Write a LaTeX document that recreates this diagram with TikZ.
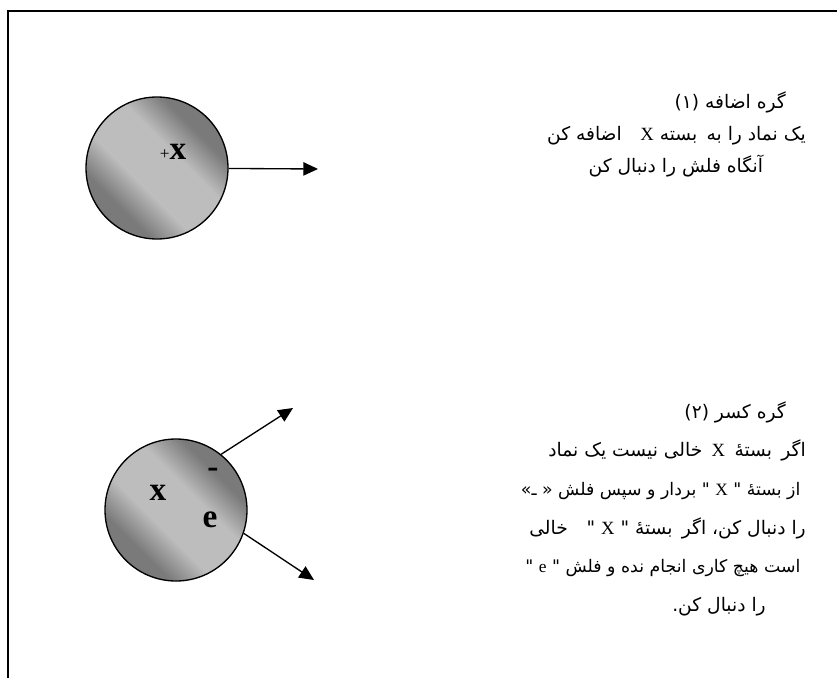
\documentclass[tikz,border=0pt]{standalone}
\usepackage{fontspec}
\setmainfont{Liberation Serif}
\newfontfamily\arabicfont[Script=Arabic]{DejaVu Sans}
\TeXXeTstate=1
\usetikzlibrary{arrows.meta}
\pgfdeclarehorizontalshading{ballshade}{100bp}{color(0bp)=(black!54); color(31bp)=(black!52); color(42bp)=(black!26); color(58bp)=(black!26); color(69bp)=(black!52); color(100bp)=(black!54)}
\tikzstyle{ball} = [circle, draw=black, line width=1pt, minimum size=106.5pt, inner sep=0pt, shading=ballshade, shading angle=45]
\tikzstyle{arrow} = [line width=1pt, -{Triangle[length=11pt,width=10pt]}]
\tikzstyle{balltext} = [font=\fontsize{25}{25}\selectfont\bfseries, inner sep=0pt]
\tikzstyle{rule} = [align=right, anchor=north east, inner sep=0pt]

\begin{document}
\begin{tikzpicture}[x=0.75pt, y=-0.75pt]

    \useasboundingbox (0,0) rectangle (837,678);
    \draw [line width=1.8pt] (837,11) -| (8,678);

    % add node
    \node (ball1) [ball] at (157,168) {};
    \node (plusx) [balltext] at (173,152) {{\normalfont\fontsize{13}{13}\selectfont +}x};
    \coordinate (tip1) at (318,169);
    \draw [arrow] (ball1) -- (tip1);

    \node (addtext) [rule, font=\arabicfont\fontsize{14}{24}\selectfont] at (806,92) {%
        \beginR\hspace*{15pt}گره اضافه \hbox{(۱)}\endR\\
        \beginR یک نماد را به\enskip بسته {\rmfamily X}\quad اضافه کن\endR\\
        \beginR\hspace*{32pt}آنگاه فلش را دنبال کن\endR};

    % cut node
    \node (ball2) [ball] at (176,510) {};
    \node (x2) [balltext] at (158,493) {x};
    \node (minus) [balltext] at (213,473) {-};
    \node (e2) [balltext] at (210,520) {e};
    \coordinate (tip2) at (293,408);
    \coordinate (tip3) at (314,580);
    \draw [arrow] (ball2.51) -- (tip2);
    \draw [arrow] (ball2.-19) -- (tip3);

    \node (cuttext) [rule, font=\arabicfont\fontsize{14}{29}\selectfont] at (806,401) {%
        \beginR\hspace*{15pt}گره کسر \hbox{(۲)}\endR\\
        \beginR اگر\enskip بستهٔ\enskip{\rmfamily X}\enskip خالی نیست یک نماد\endR\\
        {\fontsize{13}{29}\selectfont\beginR\hspace*{4pt}از بستهٔ " {\rmfamily X} " بردار و سپس فلش « ـ»\endR}\\
        \beginR را دنبال کن\hbox{،} اگر\enskip بستهٔ " {\rmfamily X} "\quad خالی\endR\\
        {\fontsize{13}{29}\selectfont\beginR\hspace*{4pt}است هیچ کاری انجام نده و فلش " {\rmfamily e} "\endR}\\
        \beginR\hspace*{30pt}را دنبال کن\hbox{.}\endR};

\end{tikzpicture}
\end{document}
